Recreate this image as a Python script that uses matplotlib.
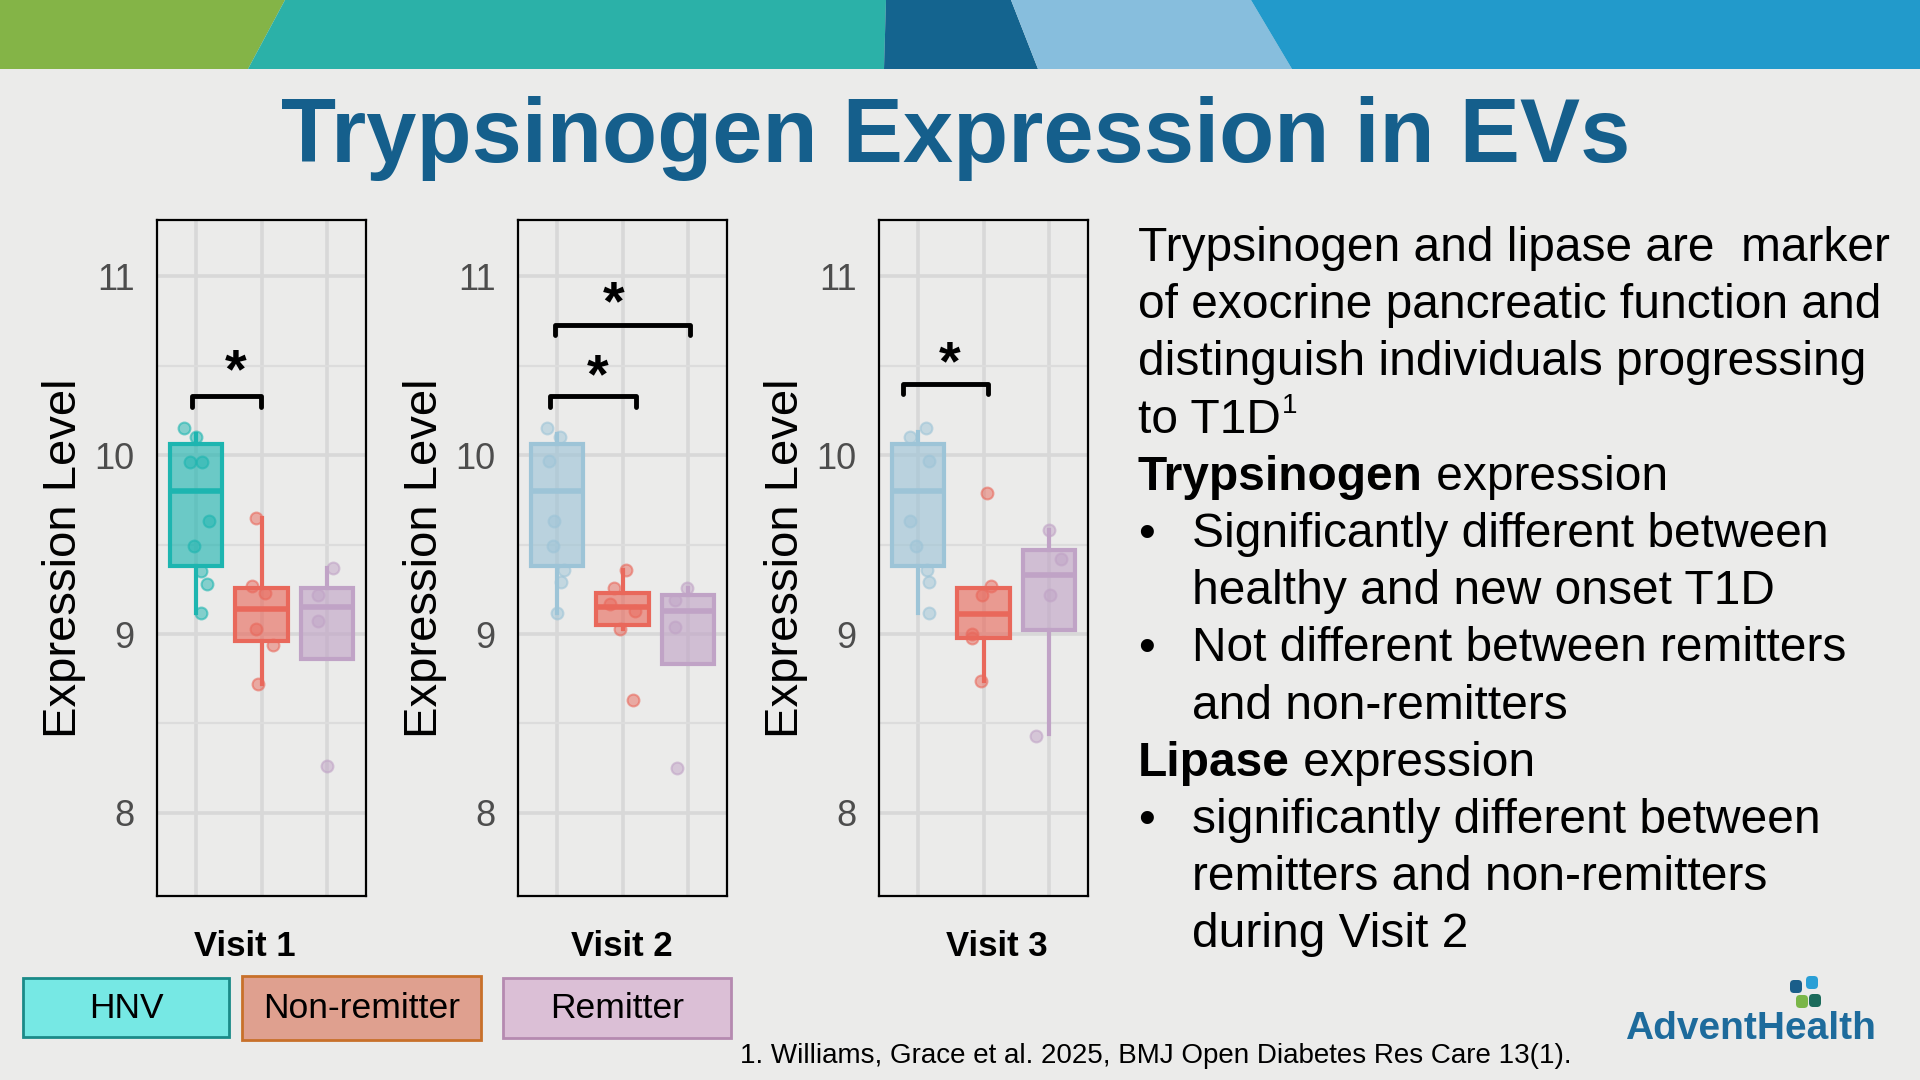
import numpy as np
import matplotlib
matplotlib.use("Agg")
import matplotlib.pyplot as plt
from matplotlib.patches import Polygon, Rectangle, FancyBboxPatch

plt.rcParams['font.family'] = ['Liberation Sans', 'DejaVu Sans']

# ---------------- data ----------------
visits = ["Visit 1", "Visit 2", "Visit 3"]
groups = ["HNV", "Non-remitter", "Remitter"]

# box statistics, one row per visit, columns = HNV, Non-remitter, Remitter
box_q1 = [[9.38, 8.96, 8.86],
          [9.38, 9.05, 8.83],
          [9.38, 8.98, 9.02]]
box_med = [[9.80, 9.14, 9.15],
           [9.80, 9.15, 9.13],
           [9.80, 9.11, 9.33]]
box_q3 = [[10.06, 9.26, 9.26],
          [10.06, 9.23, 9.22],
          [10.06, 9.26, 9.47]]
whis_lo = [[9.12, 8.72, 8.86],
           [9.12, 9.03, 8.83],
           [9.12, 8.74, 8.44]]
whis_hi = [[10.12, 9.65, 9.37],
           [10.12, 9.36, 9.26],
           [10.13, 9.26, 9.58]]

# individual samples (value) and their horizontal jitter
pts_val = [
    [[10.15, 10.10, 9.96, 9.96, 9.63, 9.49, 9.35, 9.28, 9.12],
     [9.65, 9.27, 9.23, 9.03, 8.94, 8.72],
     [9.37, 9.22, 9.07, 8.26]],
    [[10.15, 10.10, 9.97, 9.63, 9.49, 9.36, 9.29, 9.12],
     [9.36, 9.26, 9.17, 9.13, 9.03, 8.63],
     [9.26, 9.19, 9.04, 8.25]],
    [[10.15, 10.10, 9.97, 9.63, 9.49, 9.36, 9.29, 9.12],
     [9.79, 9.27, 9.22, 9.00, 8.98, 8.74],
     [9.58, 9.42, 9.22, 8.43]],
]
pts_jit = [
    [[-0.19, 0.00, -0.09, 0.09, 0.20, -0.04, 0.08, 0.16, 0.07],
     [-0.08, -0.14, 0.05, -0.08, 0.17, -0.05],
     [0.10, -0.13, -0.13, 0.01]],
    [[-0.16, 0.04, -0.12, -0.05, -0.07, 0.11, 0.06, 0.00],
     [0.06, -0.13, -0.19, 0.19, -0.04, 0.16],
     [-0.02, -0.19, -0.20, -0.16]],
    [[0.12, -0.13, 0.16, -0.13, -0.04, 0.14, 0.16, 0.16],
     [0.05, 0.11, -0.02, -0.18, -0.17, -0.04],
     [0.00, 0.18, 0.02, -0.19]],
]

# significance brackets per visit: (left group, right group, height, star x, star y)
brackets = [
    [(0.93, 1.99, 10.33, 1.61, 10.46)],
    [(0.89, 2.20, 10.33, 1.62, 10.43), (0.96, 3.03, 10.73, 1.86, 10.84)],
    [(0.76, 2.07, 10.40, 1.48, 10.50)],
]

yticks = [8, 9, 10, 11]

text_lines = [
    ("", "Trypsinogen and lipase are  marker", 0),
    ("", "of exocrine pancreatic function and", 0),
    ("", "distinguish individuals progressing", 0),
    ("", "to T1D", 0),
    ("Trypsinogen", " expression", 0),
    ("", "Significantly different between", 2),
    ("", "healthy and new onset T1D", 1),
    ("", "Not different between remitters", 2),
    ("", "and non-remitters", 1),
    ("Lipase", " expression", 0),
    ("", "significantly different between", 2),
    ("", "remitters and non-remitters", 1),
    ("", "during Visit 2", 1),
]

# ---------------- styling ----------------
W, H = 1920, 1080
bg = '#EBEBEA'
hnv_cols = ['#1DB5B0', '#9DC4D7', '#9DC4D7']
nr_col = '#E9685B'
rm_col = '#C0A3C6'

fig = plt.figure(figsize=(19.2, 10.8), dpi=100, facecolor=bg)

# full-slide overlay in pixel coordinates
base = fig.add_axes([0, 0, 1, 1])
base.set_xlim(0, W)
base.set_ylim(H, 0)
base.axis('off')

# top banner
banner = [
    ('#84B447', [(0, 0), (285, 0), (248, 69), (0, 69)]),
    ('#2BB1A8', [(285, 0), (886, 0), (884, 69), (248, 69)]),
    ('#14648F', [(886, 0), (1011, 0), (1038, 69), (884, 69)]),
    ('#87BEDD', [(1011, 0), (1251, 0), (1292, 69), (1038, 69)]),
    ('#229ACB', [(1251, 0), (1920, 0), (1920, 69), (1292, 69)]),
]
for c, verts in banner:
    base.add_patch(Polygon(verts, closed=True, facecolor=c, edgecolor='none'))

base.text(956, 162, "Trypsinogen Expression in EVs", fontsize=65, fontweight='bold',
          color='#155F8C', ha='center', va='baseline')


def px(x, y, w, h):
    return [x / W, 1 - (y + h) / H, w / W, h / H]


panel_x = [157, 518, 879]
for i, left in enumerate(panel_x):
    ax = fig.add_axes(px(left, 220, 209, 676))
    ax.set_facecolor(bg)

    cols = [hnv_cols[i], nr_col, rm_col]
    for g in range(3):
        st = dict(med=box_med[i][g], q1=box_q1[i][g], q3=box_q3[i][g],
                  whislo=whis_lo[i][g], whishi=whis_hi[i][g])
        c = cols[g]
        ax.bxp([st], positions=[g + 1], widths=0.8, patch_artist=True,
               showcaps=False, showfliers=False, manage_ticks=False,
               boxprops=dict(facecolor=matplotlib.colors.to_rgba(c, 0.62), edgecolor=c, lw=3),
               medianprops=dict(color=c, lw=4, solid_capstyle='butt'),
               whiskerprops=dict(color=c, lw=3))
        xs = np.array(pts_jit[i][g]) + g + 1
        ax.plot(xs, pts_val[i][g], 'o', ms=8.5, mfc=matplotlib.colors.to_rgba(c, 0.5),
                mec=matplotlib.colors.to_rgba(c, 0.6), mew=1.5, zorder=4)

    for x1, x2, yb, sx, sy in brackets[i]:
        ax.plot([x1, x1, x2, x2], [yb - 0.06, yb, yb, yb - 0.06], color='black', lw=3.5,
                solid_joinstyle='round', solid_capstyle='round', zorder=5)
        ax.text(sx, sy, '*', fontsize=40, fontweight='bold', ha='center', va='center', zorder=5)

    ax.set_xlim(0.4, 3.6)
    ax.set_ylim(7.535, 11.315)
    ax.set_yticks(yticks)
    ax.set_yticks([8.5, 9.5, 10.5], minor=True)
    ax.set_xticks([1, 2, 3])
    ax.set_xticklabels([])
    ax.grid(True, which='major', color='#D8D8D8', lw=2.6)
    ax.grid(True, which='minor', axis='y', color='#DCDCDC', lw=1.6)
    ax.set_axisbelow(True)
    ax.tick_params(axis='both', which='both', length=0)
    ax.tick_params(axis='y', labelsize=26, labelcolor='#4D4D4D', pad=16)
    for s in ax.spines.values():
        s.set_color('black')
        s.set_linewidth(1.6)

    base.text(left - 93, 558, "Expression Level", rotation=90, fontsize=34,
              ha='center', va='center', color='black')

for x, lab in zip([245, 622, 997], visits):
    base.text(x, 946, lab, fontsize=25, fontweight='bold', ha='center', va='center')

# legend boxes
leg = [
    (23, 978, 206, 59, '#76E8E4', '#1A8A88'),
    (242, 976, 239, 64, '#DFA08F', '#C8702A'),
    (503, 978, 228, 60, '#DBBFD6', '#B58AB0'),
]
for (x, y, w, h, fc, ec), lab in zip(leg, groups):
    base.add_patch(Rectangle((x, y), w, h, facecolor=fc, edgecolor=ec, lw=2))
    base.text(x + w / 2, y + h / 2 + 1, lab, fontsize=25.5, ha='center', va='center')

base.text(740, 1056, "1. Williams, Grace et al. 2025, BMJ Open Diabetes Res Care 13(1).",
          fontsize=20, ha='left', va='center')

# right-hand text block
r = fig.canvas.get_renderer()
y0, dy = 261, 57.2
fs = 34.5
for k, (bold, rest, kind) in enumerate(text_lines):
    y = y0 + dy * k
    x = 1138 if kind == 0 else 1192
    if kind == 2:
        base.text(1138, y, "\u2022", fontsize=fs, va='baseline', ha='left')
    if bold:
        t = base.text(x, y, bold, fontsize=fs, fontweight='bold', va='baseline', ha='left')
        x = t.get_window_extent(renderer=r).x1
    t = base.text(x, y, rest, fontsize=fs, va='baseline', ha='left')
    if rest == "to T1D":
        xe = t.get_window_extent(renderer=r).x1
        base.text(xe + 1, y - 20, "1", fontsize=20, va='baseline', ha='left')

# AdventHealth logo
petals = [('#1A5E8A', 1790, 980), ('#2A9FD6', 1806, 976), ('#7AB648', 1796, 995), ('#1B6B5B', 1809, 994)]
for c, x, y in petals:
    base.add_patch(FancyBboxPatch((x, y), 12, 13, boxstyle='round,pad=0,rounding_size=4',
                                  facecolor=c, edgecolor='none'))
base.text(1750, 1039, "AdventHealth", fontsize=28, fontweight='bold', color='#1D6B9C',
          ha='center', va='baseline')

fig.savefig("out.png", dpi=100, facecolor=bg)
